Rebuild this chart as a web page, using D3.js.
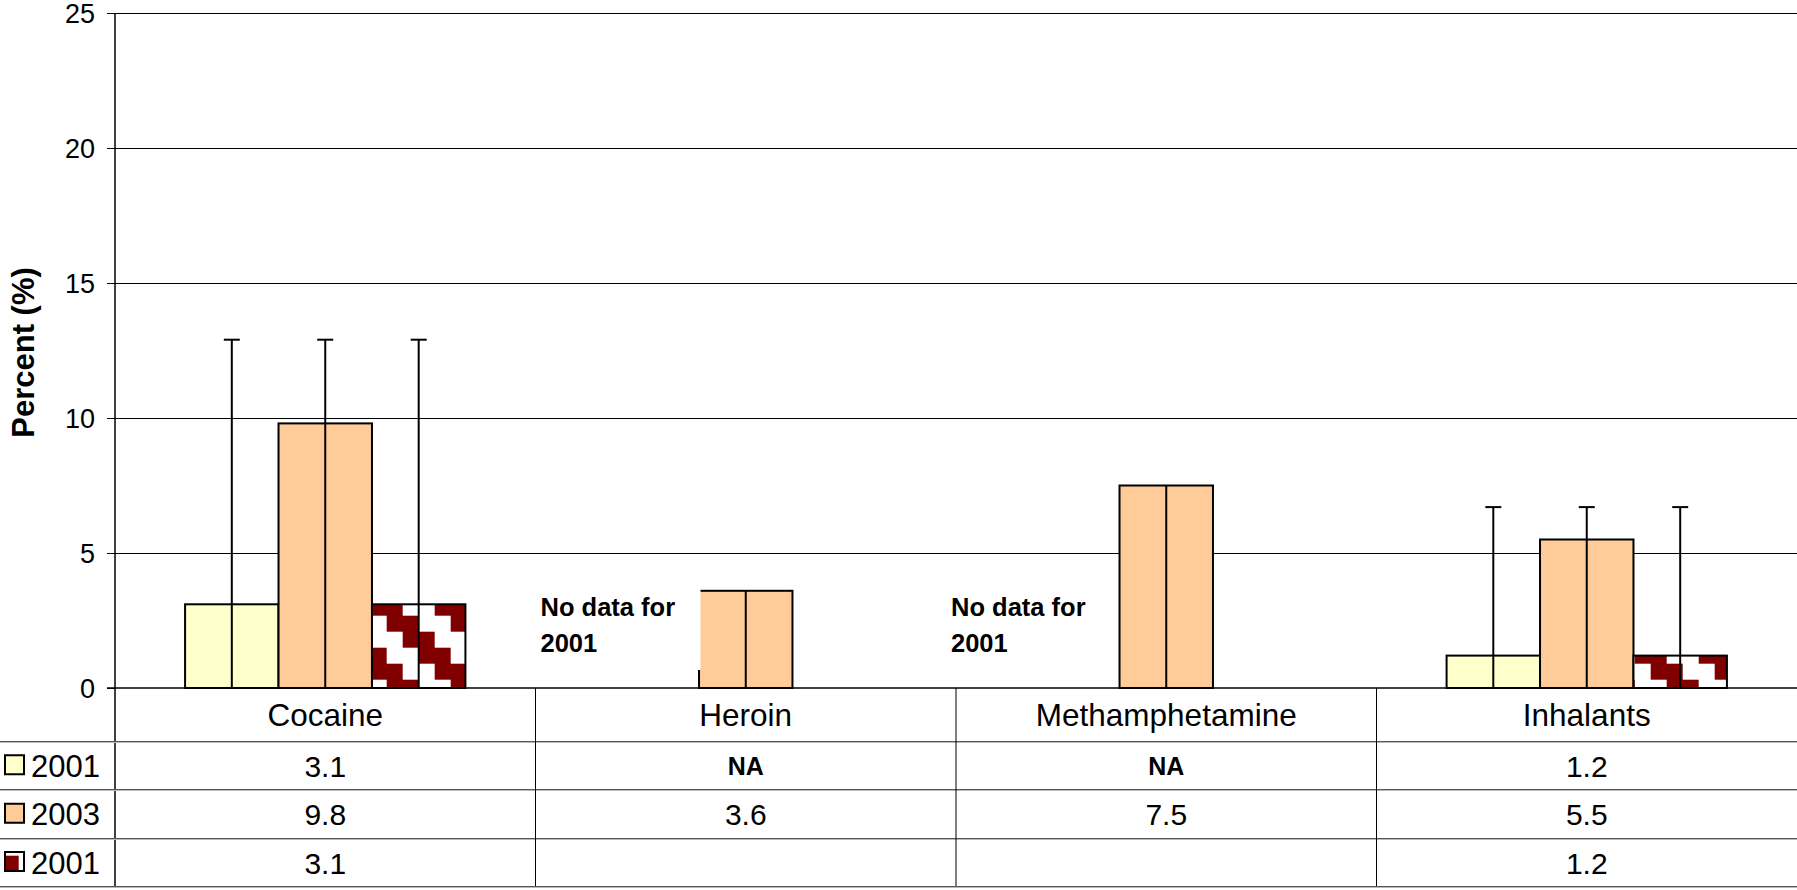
<!DOCTYPE html>
<html>
<head>
<meta charset="utf-8">
<script src="https://cdn.jsdelivr.net/npm/d3@7"></script>
<style>
  html, body { margin: 0; padding: 0; background: #fff; }
  svg { display: block; font-family: "Liberation Sans", Arial, sans-serif; }
</style>
</head>
<body>
<svg id="chart" width="1797" height="890"></svg>
<script>
// ---------- data ----------
const categories = ["Cocaine", "Heroin", "Methamphetamine", "Inhalants"];
const seriesNames = ["2001", "2003", "2001"];
const values2001 = [3.1, null, null, 1.2];
const values2003 = [9.8, 3.6, 7.5, 5.5];
const values2001b = [3.1, null, null, 1.2];
const errUpper2001 = [12.9, null, null, 6.7];
const errUpper2003 = [12.9, 3.6, 7.5, 6.7];
const errUpper2001b = [12.9, null, null, 6.7];
const tableRow2001 = ["3.1", "NA", "NA", "1.2"];
const tableRow2003 = ["9.8", "3.6", "7.5", "5.5"];
const tableRow2001b = ["3.1", "", "", "1.2"];
const yTicks = [0, 5, 10, 15, 20, 25];
const noDataCategories = ["Heroin", "Methamphetamine"];
const noDataLines = ["No data for", "2001"];
const yTitle = "Percent (%)";

(function () {
// ---------- layout ----------
const W = 1797, H = 890;
const pLeft = 115, pRight = 1797, pTop = 13, pBottom = 688;
const rowLines = [741, 789.5, 838, 886];
const font = '"Liberation Sans", Arial, sans-serif';

const svg = d3.select("#chart");
const series = [
  { name: seriesNames[0], values: values2001, err: errUpper2001, fill: "#FFFFCC", table: tableRow2001, bold: [false, true, true, false] },
  { name: seriesNames[1], values: values2003, err: errUpper2003, fill: "#FFCC99", table: tableRow2003, bold: [false, false, false, false] },
  { name: seriesNames[2], values: values2001b, err: errUpper2001b, fill: "url(#zig)", table: tableRow2001b, bold: [false, false, false, false] }
];

// pattern (staircase of dark red / white cells)
const defs = svg.append("defs");
const pat = defs.append("pattern").attr("id", "zig")
  .attr("patternUnits", "userSpaceOnUse")
  .attr("x", 370.7).attr("y", 599.7)
  .attr("width", 64).attr("height", 64);
pat.append("rect").attr("width", 64).attr("height", 64).attr("fill", "#fff");
const cells = [];
for (let r = 0; r < 4; r++) { cells.push([r, r]); cells.push([r, (r + 1) % 4]); }
pat.selectAll("rect.c").data(cells).join("rect").attr("class", "c")
  .attr("x", d => d[1] * 16).attr("y", d => d[0] * 16)
  .attr("width", 16).attr("height", 16).attr("fill", "#800000");

const x = d3.scaleBand().domain(categories).range([pLeft, pRight]).paddingInner(0).paddingOuter(0);
const xs = d3.scaleBand().domain([0, 1, 2]).range([0, x.bandwidth()]).paddingInner(0).paddingOuter(0.75);
const y = d3.scaleLinear().domain([0, 25]).range([pBottom, pTop]);

// gridlines
svg.append("g").selectAll("line").data(yTicks.filter(t => t > 0)).join("line")
  .attr("x1", pLeft).attr("x2", pRight)
  .attr("y1", d => y(d)).attr("y2", d => y(d))
  .attr("stroke", "#000").attr("stroke-width", 1).attr("shape-rendering", "crispEdges");

// y axis
const yAxis = d3.axisLeft(y).tickValues(yTicks).tickSize(8).tickPadding(12).tickFormat(d3.format("d"));
const gy = svg.append("g").attr("transform", `translate(${pLeft},0)`).call(yAxis);
gy.select(".domain").remove();
gy.selectAll(".tick line").attr("stroke", "#000").attr("shape-rendering", "crispEdges");
gy.selectAll(".tick text").attr("font-family", font).attr("font-size", 27).attr("fill", "#000")
  .attr("dy", "0.36em");

// y axis line extending into table
svg.append("line").attr("x1", pLeft).attr("x2", pLeft).attr("y1", pTop).attr("y2", rowLines[3])
  .attr("stroke", "#000").attr("stroke-width", 1.5);

// y title
svg.append("text").attr("transform", `translate(34,${(pTop + pBottom) / 2 + 2}) rotate(-90)`)
  .attr("text-anchor", "middle").attr("font-family", font).attr("font-weight", "bold")
  .attr("font-size", 31).text(yTitle);

// bars
const barData = [];
series.forEach((s, si) => categories.forEach((c, ci) => {
  if (s.values[ci] != null) barData.push({ si, c, v: s.values[ci], e: s.err[ci], fill: s.fill });
}));
svg.append("g").selectAll("rect").data(barData).join("rect")
  .attr("x", d => x(d.c) + xs(d.si))
  .attr("y", d => y(d.v))
  .attr("width", xs.bandwidth())
  .attr("height", d => y(0) - y(d.v))
  .attr("fill", d => d.fill)
  .attr("stroke", "#000").attr("stroke-width", 2);

// error bars (lower to 0, upper to err)
const eg = svg.append("g");
eg.selectAll("line.v").data(barData).join("line").attr("class", "v")
  .attr("x1", d => x(d.c) + xs(d.si) + xs.bandwidth() / 2)
  .attr("x2", d => x(d.c) + xs(d.si) + xs.bandwidth() / 2)
  .attr("y1", y(0)).attr("y2", d => y(d.e))
  .attr("stroke", "#000").attr("stroke-width", 2);
eg.selectAll("line.cap").data(barData.filter(d => d.e > d.v)).join("line").attr("class", "cap")
  .attr("x1", d => x(d.c) + xs(d.si) + xs.bandwidth() / 2 - 8)
  .attr("x2", d => x(d.c) + xs(d.si) + xs.bandwidth() / 2 + 8)
  .attr("y1", d => y(d.e)).attr("y2", d => y(d.e))
  .attr("stroke", "#000").attr("stroke-width", 2);

// "No data" text boxes
const noteOffsets = { "Heroin": 5, "Methamphetamine": -5 };
noDataCategories.forEach(c => {
  const nx = x(c) + noteOffsets[c];
  const barLeft = x(c) + xs(1);
  const boxRight = c === "Heroin" ? barLeft + 1.5 : barLeft - 20;
  svg.append("rect").attr("x", nx - 6).attr("y", 575)
    .attr("width", boxRight - (nx - 6)).attr("height", 95).attr("fill", "#fff");
  const t = svg.append("text").attr("font-family", font).attr("font-weight", "bold").attr("font-size", 25.5);
  noDataLines.forEach((ln, i) => t.append("tspan").attr("x", nx).attr("y", 616 + i * 36).text(ln));
});

// zero axis line
svg.append("line").attr("x1", pLeft - 8).attr("x2", pRight).attr("y1", y(0)).attr("y2", y(0))
  .attr("stroke", "#000").attr("stroke-width", 1.5);

// ---------- data table ----------
const tg = svg.append("g");
rowLines.forEach(ry => {
  tg.append("line").attr("x1", 0).attr("x2", W).attr("y1", ry).attr("y2", ry)
    .attr("stroke", "#555").attr("stroke-width", 1).attr("shape-rendering", "crispEdges");
  tg.append("line").attr("x1", 0).attr("x2", W).attr("y1", ry + 1).attr("y2", ry + 1)
    .attr("stroke", "#b8b8b8").attr("stroke-width", 1).attr("shape-rendering", "crispEdges");
});
categories.slice(1).forEach(c => {
  tg.append("line").attr("x1", x(c)).attr("x2", x(c)).attr("y1", y(0)).attr("y2", rowLines[3])
    .attr("stroke", "#000").attr("stroke-width", 1);
});
// category labels
tg.selectAll("text.cat").data(categories).join("text").attr("class", "cat")
  .attr("x", d => x(d) + x.bandwidth() / 2).attr("y", (y(0) + rowLines[0]) / 2 + 11)
  .attr("text-anchor", "middle").attr("font-family", font).attr("font-size", 31.5).text(d => d);

// series rows
series.forEach((s, si) => {
  const cy = (rowLines[si] + rowLines[si + 1]) / 2;
  tg.append("rect").attr("x", 5).attr("y", cy - 10).attr("width", 19).attr("height", 19)
    .attr("fill", s.fill).attr("stroke", "#000").attr("stroke-width", 2);
  tg.append("text").attr("x", 31).attr("y", cy + 11.5).attr("font-family", font).attr("font-size", 31)
    .text(s.name);
  categories.forEach((c, ci) => {
    const b = s.bold[ci];
    tg.append("text").attr("x", x(c) + x.bandwidth() / 2).attr("y", cy + (b ? 9.5 : 11.5))
      .attr("text-anchor", "middle").attr("font-family", font)
      .attr("font-weight", b ? "bold" : "normal").attr("font-size", b ? 25 : 30)
      .text(s.table[ci]);
  });
});
})();
</script>
</body>
</html>
